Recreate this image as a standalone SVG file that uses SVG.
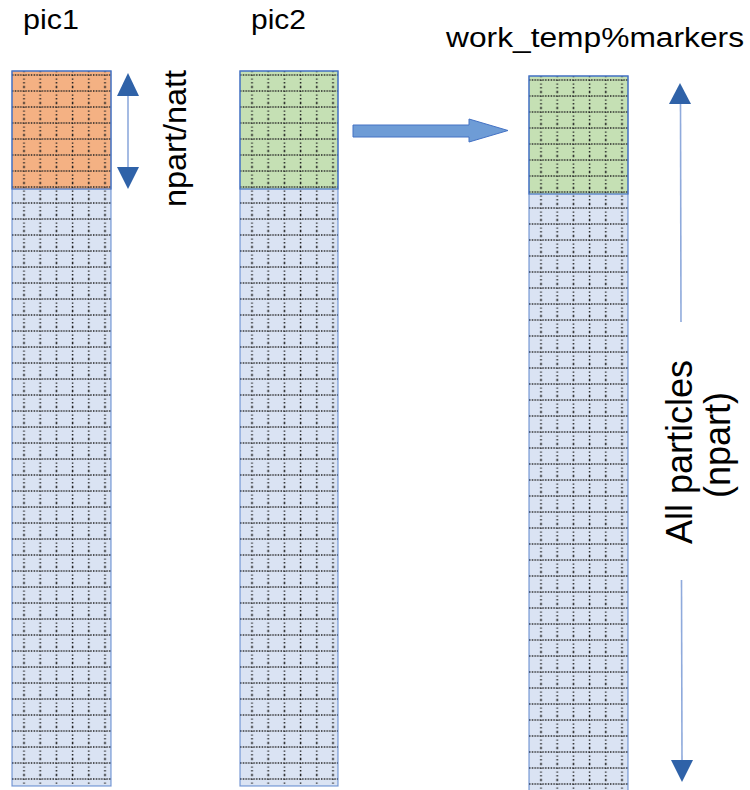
<svg xmlns="http://www.w3.org/2000/svg" width="750" height="790" viewBox="0 0 750 790">
<style>
.lbl{font-family:"Liberation Sans",Arial,sans-serif;fill:#000}
.col{fill:#DAE3F3}
.top-o{fill:#F4B183}
.top-g{fill:#C5E0B4}
.bd{fill:none;stroke:#4472C4;stroke-width:1.2}
.hd{fill:#2F62A8}
.ln{stroke:#8FAADC;stroke-width:1.6;fill:none}
</style>
<defs>
<pattern id="grid" patternUnits="userSpaceOnUse" width="16.2" height="16">
<line x1="0" y1="4" x2="16.2" y2="4" stroke="#222" stroke-width="1.6" stroke-dasharray="1.4 1.3"/>
<line x1="12" y1="0" x2="12" y2="16" stroke="#222" stroke-width="1.5" stroke-dasharray="1.3 2.4"/>
</pattern>
</defs>

<g id="pic1">
<g transform="translate(12,71)">
<rect class="col" x="0" y="0" width="99" height="715"/>
<rect class="top-o" x="0" y="0" width="99" height="118"/>
<rect fill="url(#grid)" x="0" y="0" width="99" height="715"/>
<rect class="bd" x="0" y="0" width="99" height="715" stroke-opacity="0.7"/>
<rect class="bd" x="0" y="0" width="99" height="118"/>
</g>
<text class="lbl" x="23" y="29" font-size="28" textLength="56" lengthAdjust="spacingAndGlyphs">pic1</text>
</g>

<g id="pic2">
<g transform="translate(240,71)">
<rect class="col" x="0" y="0" width="98" height="715"/>
<rect class="top-g" x="0" y="0" width="98" height="118"/>
<rect fill="url(#grid)" x="0" y="0" width="98" height="715"/>
<rect class="bd" x="0" y="0" width="98" height="715" stroke-opacity="0.7"/>
<rect class="bd" x="0" y="0" width="98" height="118"/>
</g>
<text class="lbl" x="251" y="29" font-size="28" textLength="55" lengthAdjust="spacingAndGlyphs">pic2</text>
</g>

<g id="markers">
<g transform="translate(529,76)">
<rect class="col" x="0" y="0" width="99" height="730"/>
<rect class="top-g" x="0" y="0" width="99" height="118"/>
<rect fill="url(#grid)" x="0" y="0" width="99" height="730"/>
<rect class="bd" x="0" y="0" width="99" height="730" stroke-opacity="0.7"/>
<rect class="bd" x="0" y="0" width="99" height="118"/>
</g>
<text class="lbl" x="446" y="47" font-size="27" textLength="298" lengthAdjust="spacingAndGlyphs">work_temp%markers</text>
</g>

<g id="npart-natt">
<text class="lbl" font-size="32" transform="translate(186,138.5) rotate(-90)" text-anchor="middle" textLength="137" lengthAdjust="spacingAndGlyphs">npart/natt</text>
</g>

<g id="all-particles">
<text class="lbl" font-size="36" transform="translate(692,452) rotate(-90)" text-anchor="middle">All particles</text>
<text class="lbl" font-size="36" transform="translate(730,445) rotate(-90)" text-anchor="middle">(npart)</text>
</g>

<g id="connectors">
<polygon points="353,125 469,125 469,119 508,130.5 469,142 469,137 353,137" fill="#6E9CD6" stroke="#4472C4" stroke-width="1"/>
<line class="ln" x1="128" y1="95" x2="128" y2="168"/>
<polygon class="hd" points="128,73 139,96 117,96"/>
<polygon class="hd" points="128,189 139,167 117,167"/>
<line class="ln" x1="680.5" y1="103" x2="681" y2="322"/>
<polygon class="hd" points="680,83 691,104 669,104"/>
<line class="ln" x1="681.5" y1="580" x2="682" y2="761"/>
<polygon class="hd" points="682,782 693,760 671,760"/>
</g>
</svg>
